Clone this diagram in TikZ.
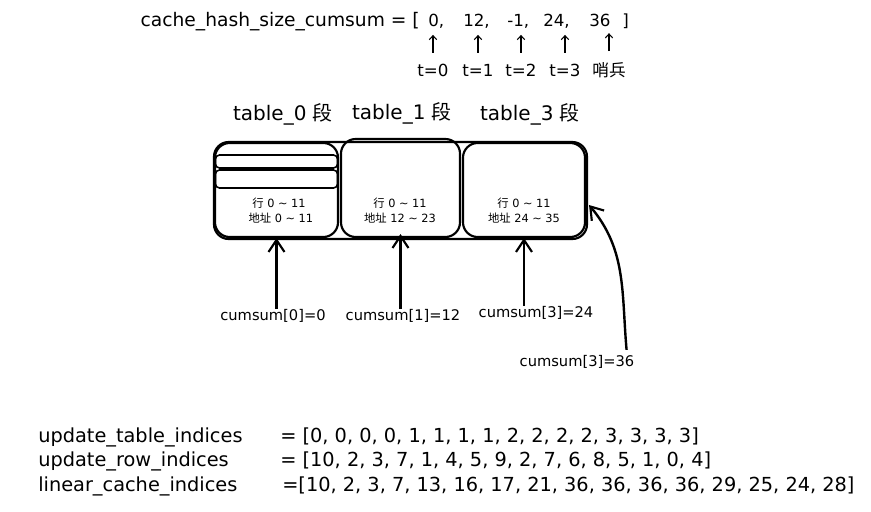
\documentclass[tikz,border=0pt]{standalone}
\usepackage{fontspec}
\setmainfont{DejaVu Sans}
\newfontfamily\cjk{Noto Sans CJK SC}
\usetikzlibrary{positioning}
\usetikzlibrary{arrows.meta}
\tikzset{
    cellbox/.style = {rectangle, rounded corners=11pt, line width=1.6pt, draw=black, inner sep=0pt},
    strip/.style = {rectangle, rounded corners=3pt, line width=1.2pt, draw=black, inner sep=0pt, minimum width=91.5pt},
    txt/.style = {inner sep=0pt, font=\fontsize{12.5}{15}\selectfont},
    head/.style = {inner sep=0pt, font=\fontsize{15}{17}\selectfont},
    lbl/.style = {inner sep=0pt, font=\fontsize{11}{13}\selectfont},
    small/.style = {inner sep=0pt, align=center, font=\fontsize{8.5}{11.2}\selectfont},
    code/.style = {inner sep=0pt, anchor=base west, font=\fontsize{14.5}{17}\selectfont},
    edgen/.style = {-{Straight Barb[length=9pt,width=12pt,line width=1.6pt]}, line width=1.8pt},
    edget/.style = {-{Straight Barb[length=3pt,width=5.5pt]}, line width=0.8pt, shorten <=8pt, shorten >=5pt}
}

\begin{document}
\begin{tikzpicture}[x=0.75pt,y=-0.75pt]
\useasboundingbox (0,0) rectangle (871,511);

% cumsum list
\node[txt, anchor=base east, font=\fontsize{14}{16}\selectfont] at (420,26) (title) {cache\_hash\_size\_cumsum = [};
\node[txt, anchor=base west] at (428,26) (v0) {0,};
\node[txt, anchor=base west] at (463,26) (v1) {12,};
\node[txt, anchor=base west] at (507,26) (v2) {-1,};
\node[txt, anchor=base west] at (543,26) (v3) {24,};
\node[txt, anchor=base west] at (589,26) (v4) {36};
\node[txt, anchor=base west] at (622,26) (close) {]};

\node[txt, anchor=base] at (433,76) (t0) {t=0};
\node[txt, anchor=base] at (478,76) (t1) {t=1};
\node[txt, anchor=base] at (521,76) (t2) {t=2};
\node[txt, anchor=base] at (565,76) (t3) {t=3};
\node[txt, anchor=base] at (609,76) (t4) {\cjk 哨兵};

\draw[edget] (t0.north) -- (t0.north |- v0.south);
\draw[edget] (t1.north) -- (t1.north |- v1.south);
\draw[edget] (t2.north) -- (t2.north |- v2.south);
\draw[edget] (t3.north) -- (t3.north |- v3.south);
\draw[edget] (t4.north) -- (t4.north |- v4.south);

% segments
\node[head] at (283,114) (h0) {table\_0 {\cjk 段}};
\node[head] at (402,113) (h1) {table\_1 {\cjk 段}};
\node[head] at (530,114) (h3) {table\_3 {\cjk 段}};

\node[cellbox, minimum width=279.75pt, minimum height=72.75pt] at (400.5,190.5) (outer) {};
\node[cellbox, minimum width=92.25pt, minimum height=70.5pt] at (276.5,190) (box0) {};
\node[cellbox, minimum width=89.25pt, minimum height=73.5pt] at (400.5,188) (box1) {};
\node[cellbox, minimum width=91.5pt, minimum height=70.5pt] at (524,190) (box2) {};
\node[strip, minimum height=9.75pt] at (276.5,161.5) (row0) {};
\node[strip, minimum height=13.5pt] at (276.5,179) (row1) {};

\node[small] at (279,210.5) (info0) {{\cjk 行} 0 \textasciitilde{} 11\\ \ {\cjk 地址} 0 \textasciitilde{} 11};
\node[small] at (400,210.5) (info1) {{\cjk 行} 0 \textasciitilde{} 11\\{\cjk 地址} 12 \textasciitilde{} 23};
\node[small] at (524,210.5) (info2) {{\cjk 行} 0 \textasciitilde{} 11\\{\cjk 地址} 24 \textasciitilde{} 35};

% pointers
\node[lbl] at (273,316) (c0) {cumsum[0]=0};
\node[lbl] at (403,316) (c1) {cumsum[1]=12};
\node[lbl] at (536,313) (c2) {cumsum[3]=24};
\node[lbl] at (577,362) (c3) {cumsum[3]=36};
\coordinate (tip) at (589,205);

\draw[edgen] (box0.south |- c0.north) -- (box0.south);
\draw[edgen] (box1.south |- c1.north) -- ([yshift=3pt]box1.south);
\draw[edgen] (box2.south |- c2.north) -- (box2.south);
\draw[edgen] ([xshift=-6pt,yshift=4pt]c3.north east) to[out=95,in=-50] (tip);

% index arrays
\node[code] at (38,442) (n0) {update\_table\_indices};
\node[code] at (38,466) (n1) {update\_row\_indices};
\node[code] at (38,491) (n2) {linear\_cache\_indices};
\node[code] at (280,442) (a0) {= [0, 0, 0, 0, 1, 1, 1, 1, 2, 2, 2, 2, 3, 3, 3, 3]};
\node[code] at (280,466) (a1) {= [10, 2, 3, 7, 1, 4, 5, 9, 2, 7, 6, 8, 5, 1, 0, 4]};
\node[code] at (282,491) (a2) {=[10, 2, 3, 7, 13, 16, 17, 21, 36, 36, 36, 36, 29, 25, 24, 28]};

\end{tikzpicture}
\end{document}
